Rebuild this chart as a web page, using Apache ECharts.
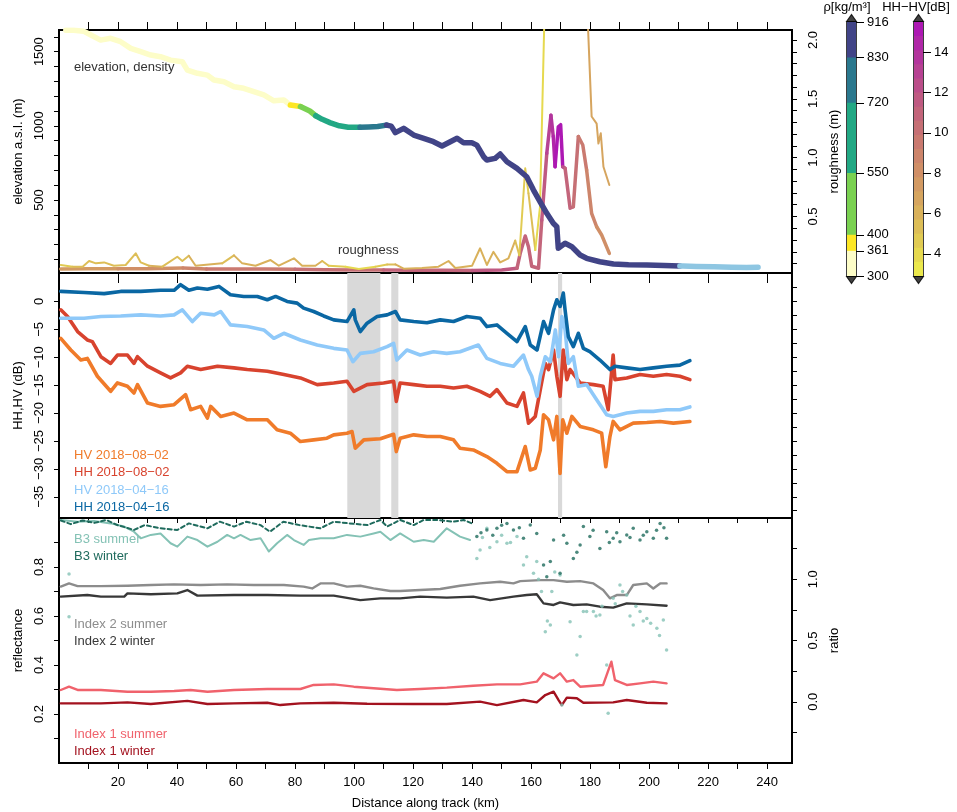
<!DOCTYPE html>
<html>
<head>
<meta charset="utf-8">
<script src="https://cdn.jsdelivr.net/npm/echarts@6.0.0/dist/echarts.min.js"></script>
<style>
html,body{margin:0;padding:0;background:#fff}
#main{width:957px;height:812px}
</style>
</head>
<body>
<div id="main"></div>
<script>
// ---------- data ----------
var xTicks10 = [10,20,30,40,50,60,70,80,90,100,110,120,130,140,150,160,170,180,190,200,210,220,230,240];
var xTicks20 = [20,40,60,80,100,120,140,160,180,200,220,240];
var xLabels = [20,40,60,80,100,120,140,160,180,200,220,240];

var elevTicks = [100,200,300,400,500,600,700,800,900,1000,1100,1200,1300,1400,1500,1600];
var elevLabels = [500,1000,1500];
var roughTicks = [0.1,0.2,0.3,0.4,0.5,0.6,0.7,0.8,0.9,1.0,1.1,1.2,1.3,1.4,1.5,1.6,1.7,1.8,1.9,2.0];
var roughLabels = [0.5,1.0,1.5,2.0];
var dbLabels = [-35,-30,-25,-20,-15,-10,-5,0];
var dbRightTicks = [-37.5,-35,-32.5,-30,-27.5,-25,-22.5,-20,-17.5,-15,-12.5,-10,-7.5,-5,-2.5,0,2.5];
var reflTicks = [0.1,0.2,0.3,0.4,0.5,0.6,0.7,0.8,0.9];
var reflLabels = [0.2,0.4,0.6,0.8];
var ratioTicks = [-0.25,0,0.25,0.5,0.75,1.0,1.25];
var ratioLabels = [0,0.5,1.0];

// elevation (m) with firn density (kg/m3) along track (km)
var elevKm = [2.3,5,8.3,10.8,14.1,17.5,20.9,24.3,27.7,31.1,34.4,37.8,41.8,43.5,46.9,50.3,52.5,55.9,59.3,62.6,66,69.4,72.8,76.2,78.4,
  79,81.8,82.4,85,87,89.2,92,95,98,102,105,108,111,112.6,114,116.8,120.2,123.6,126.9,129.8,132.6,134.9,137.1,139.9,141.6,143.9,145,
  147.8,149.5,151.8,155.2,158.5,160.8,163,165.3,167.5,168.7,169.2,171.5,173.8,176.6,178.8,183.3,187.9,193,199.2,205,210.4,211.5,216,222,228,233,236.9];
var elevM = [1644,1644,1638,1612,1578,1590,1567,1522,1500,1477,1466,1443,1432,1376,1354,1342,1309,1297,1264,1253,1230,1208,1169,1174,1140,
  1135,1130,1128,1100,1068,1044,1020,1000,990,990,992,995,1005,998,954,983,938,916,893,864,893,916,886,886,870,792,770,
  781,810,758,713,657,567,489,410,343,320,175,208,185,129,107,84,69,64,62,58,55,55,52,50,47,45,46];
var elevDensity = [330,330,330,330,330,330,330,330,330,330,330,330,330,330,330,330,330,330,330,330,330,330,330,330,330,
  375,380,430,470,500,580,620,650,680,710,760,790,810,870,880,880,880,885,885,885,890,890,890,890,890,895,895,
  895,895,895,900,900,900,900,900,905,905,905,905,905,905,905,905,905,905,905,905,905,930,930,930,930,930,930];

// roughness (m) coloured by HH-HV (dB): [km, roughness, HH-HV]
var roughThin = [[0.6,0.088,4.8],[4.6,0.074,4.8],[8,0.074,5.2],[10.2,0.122,5.2],[12.5,0.102,5.2],[15.3,0.11,5.2],[18.6,0.082,5.2],
  [22.6,0.088,5.5],[26,0.187,5.2],[27.7,0.11,5.5],[30.5,0.082,5.5],[35,0.074,5.8],[40.1,0.158,5.2],[41.8,0.122,5.5],[44,0.167,5.2],
  [46.3,0.082,5.8],[50.8,0.093,5.8],[55.3,0.102,5.8],[59.3,0.17,5.5],[62.1,0.102,5.8],[66.6,0.082,6.0],[71.7,0.13,5.8],[74.5,0.082,6.0],
  [79.6,0.145,5.8],[82.4,0.082,6.0],[86.9,0.082,5.8],[89.2,0.122,5.8],[91.4,0.082,5.5],[97.1,0.074,4.5],[101.6,0.054,3.8],[107.2,0.074,3.8],
  [111.2,0.093,4.8],[114,0.093,5.5],[116.8,0.057,5.8],[123,0.063,5.8],[128.6,0.074,5.8],[132,0.122,5.8],[134.3,0.063,5.8],[140,0.082,5.8],
  [142.7,0.23,5.8],[145,0.088,6.0],[147.2,0.2,5.8],[149.5,0.11,6.0],[152.3,0.145,6.0],[154.6,0.295,5.8],[156,0.17,5.5],[158,0.91,4.6],
  [159.1,0.697,5.0],[161.4,0.215,5.5],[163,0.583,4.2],[164.5,2.2,3.8],[166,2.9,3.8],[172,3.2,5.0],[178.8,2.4,6.2],[180.5,1.35,6.5],
  [182.2,1.29,6.5],[182.8,1.12,6.5],[183.6,1.207,6.8],[184.5,0.923,6.8],[186.5,0.768,7.0]];
var roughThick = [[0.6,0.054,6.8],[10,0.057,7.2],[20,0.057,7.5],[30,0.057,8.0],[42,0.063,8.5],[50,0.054,9.0],[60,0.054,9.3],[70,0.054,9.5],
  [80,0.052,9.8],[90,0.048,10.0],[100,0.045,10.2],[110,0.045,10.5],[120,0.044,10.8],[130,0.043,11.0],[140,0.042,11.3],[150,0.045,11.5],
  [155.2,0.06,11.5],[156.3,0.187,11.0],[158,0.334,10.8],[159.1,0.243,11.0],[160.2,0.077,11.2],[162.5,0.06,11.2],[163.6,0.47,11.0],
  [165.3,1.037,11.5],[166.7,1.36,12.8],[167.5,1.18,13.8],[168.1,0.923,14.2],[169.2,1.263,15.0],[170,1.28,15.2],[170.7,0.923,15.0],
  [171.5,0.91,12.5],[173.2,0.57,11.2],[174.3,0.583,11.0],[176,1.18,10.2],[177.5,1.108,9.6],[178.8,0.895,9.4],[180.5,0.527,9.0],
  [182.2,0.413,8.6],[183.9,0.343,8.5],[186.5,0.187,8.4]];

// backscatter (dB)
var hhApr = [[0.6,1.8],[8.5,1.6],[15.3,1.4],[20.9,1.8],[27.7,1.8],[34.4,2.0],[39,2.0],[41.2,3.0],[44,2.0],[46.9,2.4],[50.3,2.2],[54.2,2.7],
  [58.1,1.2],[62.6,0.9],[67.2,0.9],[70.6,0.3],[73.4,0.9],[77.3,0.0],[80.7,-0.3],[82.9,-1.2],[86.3,-1.8],[89.7,-2.6],[93.1,-3.3],[97.6,-3.6],
  [99.9,-1.5],[100.4,-3.3],[102.1,-5.4],[104.4,-3.9],[107.8,-2.7],[111.2,-2.4],[114,-1.8],[115.6,-3.3],[120.2,-3.6],[124.7,-3.8],[129.2,-3.3],
  [133.7,-3.6],[138.2,-2.7],[142.7,-3.0],[145,-4.5],[148.4,-4.2],[151.8,-5.7],[155.2,-7.2],[158,-4.5],[159.7,-7.8],[162,-8.7],[164.2,-3.6],
  [165.9,-5.7],[167.6,-1.5],[168.7,0.3],[169.8,-0.9],[170.9,1.5],[171.5,-1.5],[172.6,-6.3],[174.3,-8.1],[176,-5.7],[177.7,-8.4],[179.9,-9.0],
  [183.3,-10.5],[186.7,-12.2],[188.4,-11.6],[192.4,-11.9],[196.9,-12.2],[201.4,-11.9],[205.9,-11.6],[210.4,-11.4],[213.8,-10.6]];
var hvApr = [[0.6,-3.0],[8.5,-3.0],[14.2,-2.7],[20.9,-2.6],[27.7,-2.4],[34.4,-2.6],[39,-2.4],[41.8,-1.5],[45.2,-3.6],[48,-2.1],[52.6,-2.4],
  [54.8,-1.8],[58.1,-4.2],[63.8,-4.5],[69.4,-5.1],[72.8,-6.6],[76.2,-5.7],[81.8,-6.9],[87.5,-7.8],[93.1,-8.4],[97.6,-8.7],[99.6,-10.8],
  [102.1,-9.3],[106.6,-9.0],[111.2,-8.1],[113.4,-7.5],[114.5,-10.5],[117.9,-8.7],[122.4,-9.6],[126.9,-9.0],[131.4,-9.3],[135.9,-9.0],
  [142.1,-7.8],[145,-10.2],[149.5,-11.1],[154,-11.6],[157.4,-9.6],[159.1,-12.2],[160.2,-13.4],[162,-17.0],[163.1,-13.4],[164.8,-9.9],
  [166.5,-10.8],[168.2,-5.1],[169.3,-9.9],[170.4,-2.7],[171.5,-5.1],[172.6,-11.1],[174.3,-9.9],[176,-15.2],[178.8,-14.9],[182.2,-17.6],
  [185.6,-20.3],[187.8,-20.6],[192.4,-20.0],[196.9,-19.7],[201.4,-19.7],[205.9,-19.4],[210.4,-19.4],[213.8,-18.9]];
var hhAug = [[0.6,-1.5],[2.9,-2.7],[6.3,-5.4],[9.6,-6.9],[11.3,-7.2],[14.2,-9.9],[17.5,-11.1],[19.8,-9.6],[23.2,-9.6],[25.4,-11.1],
  [26.6,-9.9],[30,-11.6],[34.4,-12.8],[37.8,-13.7],[41.2,-12.8],[43.5,-11.6],[48,-12.2],[53.7,-11.6],[59.3,-11.9],[63.8,-12.2],[70.6,-12.5],
  [76.2,-13.1],[81.8,-13.7],[87.5,-14.9],[93.1,-14.6],[97.6,-14.3],[99.9,-16.1],[104.4,-14.9],[110,-14.6],[113.4,-14.3],[114.3,-17.9],
  [115.6,-14.6],[120.2,-14.9],[124.7,-15.2],[129.2,-15.2],[133.7,-15.5],[138.2,-15.2],[142.7,-16.1],[146.1,-17.0],[148.4,-15.8],
  [151.8,-18.2],[155.2,-18.8],[157.4,-16.4],[159.1,-21.8],[161.4,-20.6],[163.1,-15.8],[164.8,-11.1],[165.9,-12.2],[167.6,-8.7],
  [168.7,-13.4],[169.8,-17.0],[170.9,-8.7],[172.1,-14.0],[173.2,-12.2],[174.9,-13.4],[176.6,-14.6],[181.1,-14.9],[184.4,-15.2],
  [186.1,-19.4],[187.8,-9.6],[188.4,-14.0],[192.4,-13.7],[196.9,-13.1],[201.4,-13.4],[205.9,-13.1],[210.4,-13.4],[213.8,-14.0]];
var hvAug = [[0.6,-6.6],[4,-8.7],[7.4,-10.5],[9.6,-10.2],[13,-13.4],[17.5,-16.1],[19.8,-14.6],[23.2,-15.2],[25.4,-16.4],[26.6,-14.9],
  [30,-18.2],[34.4,-18.8],[39,-18.5],[42.9,-16.7],[44.6,-19.4],[48,-18.8],[50.3,-20.9],[51.4,-18.8],[54.8,-20.6],[59.3,-20.0],[63.8,-21.2],
  [70.6,-21.2],[73.9,-23.0],[78.4,-23.6],[81.8,-25.1],[86.3,-24.8],[90.8,-24.5],[93.1,-23.9],[97.6,-23.6],[99.3,-23.3],[100.4,-26.3],
  [103.3,-24.8],[108.9,-24.6],[113.4,-23.8],[114.3,-26.9],[115.6,-24.5],[120.2,-23.9],[124.7,-24.2],[129.2,-24.2],[133.7,-24.8],
  [135.9,-26.3],[140.4,-26.6],[145,-27.8],[148.4,-29.0],[151.8,-30.5],[155.2,-30.5],[158,-26.0],[159.7,-30.2],[161.4,-29.9],[163.1,-26.6],
  [164.2,-20.3],[165.9,-21.2],[167.6,-24.8],[168.7,-20.6],[169.8,-30.8],[170.7,-21.2],[172.1,-23.6],[173.8,-20.6],[176.6,-22.4],
  [181.1,-23.0],[183.9,-23.6],[185.3,-29.6],[186.7,-24.2],[187.8,-21.5],[190.1,-23.0],[194.6,-21.8],[199.2,-21.7],[203.7,-21.5],
  [208.2,-21.8],[213.8,-21.5]];
var grayBands = [[97.7,108.9],[112.6,115.0],[169.1,170.5]];

// optical: B3 reflectance, indices as ratio
var b3SumLine = [[0.6,0.992],[6.3,0.985],[11.9,0.988],[17.5,0.978],[22.1,0.965],[25.4,0.944],[27.7,0.917],[31.1,0.931],[34.4,0.937],
  [37.8,0.897],[40.1,0.883],[43.5,0.924],[46.9,0.91],[50.3,0.883],[53.7,0.903],[57,0.931],[59.3,0.917],[61.5,0.931],[64.9,0.91],
  [68.3,0.917],[71.1,0.863],[73.9,0.897],[77.3,0.931],[79.6,0.91],[82.9,0.89],[84.7,0.91],[88.6,0.917],[93.1,0.917],[97.6,0.931],
  [102.1,0.924],[106.6,0.937],[108.9,0.944],[112.3,0.91],[115.6,0.937],[120.2,0.903],[123.6,0.91],[127,0.903],[131.4,0.958],
  [135.9,0.924],[139.3,0.91]];
var b3SumPts = [[3.4,0.771],[3.4,0.597],[141.6,0.835],[142.7,0.869],[143.5,0.92],[145,0.958],[146,0.88],[148.4,0.903],[150,0.93],
  [151.8,0.897],[153,0.9],[155.2,0.924],[157.4,0.808],[158.5,0.842],[160.8,0.774],[161.9,0.822],[162.5,0.75],[163.5,0.7],[164.8,0.536],
  [165.5,0.58],[166.5,0.563],[167,0.7],[168,0.78],[169.8,0.767],[170.4,0.237],[173.2,0.577],[175.5,0.441],[176.6,0.516],[177.7,0.618],
  [178.8,0.618],[181.1,0.618],[182,0.6],[183.3,0.604],[184,0.64],[185.6,0.4],[186.1,0.203],[187.8,0.672],[188.5,0.65],[190.1,0.727],
  [191,0.7],[192.4,0.686],[193.5,0.6],[194.6,0.563],[195.5,0.64],[196.9,0.618],[198,0.58],[199.2,0.59],[200.5,0.57],[202.6,0.55],
  [203.5,0.52],[204.8,0.584],[205.9,0.461]];
var b3WinLine = [[0.6,0.99],[4,0.975],[8,0.99],[12,0.98],[16,0.992],[20,0.97],[23,0.96],[25.4,0.951],[29,0.971],[34.4,0.958],[40.1,0.951],
  [44,0.978],[50.3,0.958],[54.5,0.985],[59.3,0.965],[63.5,0.985],[68.3,0.971],[71.5,0.944],[76,0.985],[81.5,0.971],[88.6,0.958],
  [93.1,0.985],[98.5,0.978],[104.5,0.971],[108.9,0.992],[111.2,0.965],[115.6,0.992],[120.2,0.971],[123.6,0.992],[128.1,0.992],
  [133.7,0.985],[137.1,0.992],[139.9,0.978]];
var b3WinPts = [[141.6,0.924],[143,0.94],[145,0.951],[147,0.93],[148.4,0.958],[150,0.97],[151.8,0.978],[154,0.951],[156,0.96],
  [157.4,0.917],[159.7,0.971],[161.9,0.937],[164.2,0.808],[165.3,0.76],[166.5,0.822],[167.6,0.91],[169.8,0.774],[171,0.93],
  [172.1,0.897],[174.3,0.835],[175.5,0.86],[176.6,0.89],[177.7,0.965],[179.9,0.924],[181,0.95],[183.3,0.876],[185.6,0.944],
  [186.5,0.9],[187.8,0.917],[189,0.94],[190.1,0.903],[192.4,0.931],[193.5,0.92],[194.6,0.958],[196.9,0.91],[198,0.93],[199.2,0.944],
  [201.4,0.917],[202.5,0.95],[203.7,0.978],[205,0.96],[205.9,0.917]];
var idx2Sum = [[0.6,0.94],[3.4,0.966],[6.3,0.944],[14.2,0.944],[23.2,0.947],[31.1,0.953],[39,0.958],[48,0.953],[57,0.958],[66,0.953],
  [76.2,0.953],[82.9,0.94],[85.8,0.925],[88.6,0.966],[93.1,0.966],[97.6,0.94],[102.1,0.947],[106.6,0.925],[112.3,0.904],[115.6,0.904],
  [122.4,0.912],[129.2,0.92],[135.9,0.947],[142.7,0.966],[149.5,0.98],[154,0.966],[156.3,0.985],[163.1,0.993],[167.6,0.993],
  [172.1,0.98],[176.6,0.985],[181.1,0.966],[184.4,0.912],[186.7,0.844],[189,0.871],[192.4,0.871],[194.6,0.953],[199.2,0.966],
  [201.4,0.925],[203.7,0.966],[205.9,0.966]];
var idx2Win = [[0.6,0.858],[9.6,0.871],[14.2,0.858],[22.1,0.858],[23.2,0.885],[31.1,0.877],[40.1,0.885],[43.5,0.912],[46.9,0.866],
  [59.3,0.871],[70.6,0.871],[81.8,0.866],[93.1,0.866],[102.1,0.83],[108.9,0.844],[115.6,0.844],[122.4,0.858],[131.4,0.85],[140.4,0.858],
  [146.1,0.83],[154,0.858],[158.5,0.871],[161.9,0.877],[164.2,0.803],[167.6,0.79],[169.8,0.811],[174.3,0.79],[178.8,0.795],[183.3,0.776],
  [187.8,0.768],[192.4,0.803],[199.2,0.795],[205.9,0.784]];
var idx1Sum = [[0.6,0.096],[3.4,0.123],[6.3,0.096],[14.2,0.096],[23.2,0.082],[31.1,0.082],[39,0.088],[44.6,0.096],[50.3,0.082],
  [59.3,0.096],[70.6,0.104],[81.8,0.104],[86.3,0.137],[93.1,0.142],[99.9,0.123],[106.6,0.11],[114.5,0.096],[122.4,0.104],[131.4,0.115],
  [140.4,0.131],[148.4,0.142],[156.3,0.142],[161.9,0.164],[164.2,0.232],[167.6,0.191],[169.8,0.232],[172.1,0.164],[174.3,0.177],
  [176.6,0.123],[181.1,0.131],[184.4,0.137],[187.2,0.327],[188.4,0.177],[192.4,0.137],[196.9,0.15],[201.4,0.164],[205.9,0.15]];
var idx1Win = [[0.6,-0.013],[14.2,-0.013],[23.2,-0.005],[31.1,-0.018],[43.5,0.007],[50.3,-0.018],[59.3,-0.013],[70.6,-0.008],[75,-0.027],
  [81.8,-0.013],[93.1,-0.008],[104.4,-0.016],[120.2,-0.018],[131.4,-0.018],[142.7,0.001],[148.4,-0.027],[157.4,0.014],[161.9,-0.005],
  [164.8,0.055],[167.6,0.082],[169.3,0.014],[170.4,-0.027],[172.1,0.034],[175.5,0.028],[177.7,-0.008],[187.8,-0.005],[192.4,0.014],
  [199.2,-0.008],[205.9,-0.013]];

// colour scales
var densityEdges = [300,361,400,550,720,830,916];
var densityColors = ['#fdfdc8','#fde725','#7ad151','#22a884','#2a788e','#414487'];
var iceColor = '#8ec6e2';
var dbEdges = [2.9,3.6,4.3,5.0,5.7,6.4,7.1,7.8,8.5,9.2,9.9,10.6,11.3,12.0,12.7,13.4,14.1,14.8,15.5];
var dbColors = ['#ebe84c','#e6d94f','#e1cb53','#ddbe57','#d9b15b','#d6a55f','#d39a63','#d08f67','#cd856b','#ca7a70',
  '#c67075','#c3657b','#bf5a82','#bb4e8a','#b74293','#b3359d','#b027a8','#ad18b3'];
var dbLabelVals = [4,6,8,10,12,14];

// ---------- helpers ----------
var FONT = '"Liberation Sans", Arial, Helvetica, sans-serif';
var X_MIN = 0, X_MAX = 248.4;

function classOf(v, edges){
    for(var i=1;i<edges.length;i++){ if(v<=edges[i]) return i-1; }
    return edges.length-1;
}
function densityColor(d){
    var i=classOf(d,densityEdges);
    return i>=densityColors.length ? iceColor : densityColors[i];
}
function dbColor(v){
    var i=classOf(v,dbEdges);
    if(i<0) i=0;
    if(i>dbColors.length-1) i=dbColors.length-1;
    return dbColors[i];
}
function minusFmt(v){ return v<0 ? '\u2212'+Math.abs(v) : String(v); }
function oneDec(v){ return Number(v).toFixed(1); }
function plainNum(v){ return String(v); }

// split a line into runs of the same colour, each run joined to the previous point
function colouredRuns(pts, colourOf, xi, yi, width, z){
    var out=[], cur=null, last=null;
    pts.forEach(function(p){
        var col=colourOf(p[2]);
        var q=[p[0],p[1]];
        if(!cur || cur.col!==col){
            cur={col:col,data:last?[last]:[]};
            out.push(cur);
        }
        cur.data.push(q); last=q;
    });
    return out.map(function(r){
        return {type:'line',xAxisIndex:xi,yAxisIndex:yi,data:r.data,showSymbol:false,silent:true,z:z,
            lineStyle:{color:r.col,width:width,cap:'round',join:'round'}};
    });
}
function plainLine(data, xi, yi, color, width, z, dashed){
    return {type:'line',xAxisIndex:xi,yAxisIndex:yi,data:data,showSymbol:false,silent:true,z:z||2,
        lineStyle:{color:color,width:width,type:dashed?[4,3]:'solid',cap:'round',join:'round'}};
}
function dots(data, xi, yi, color, size){
    return {type:'scatter',xAxisIndex:xi,yAxisIndex:yi,data:data,symbolSize:size,silent:true,z:3,
        itemStyle:{color:color}};
}
function xAx(grid, pos, ticks, len, inside, labels, name){
    return {type:'value',gridIndex:grid,position:pos,min:X_MIN,max:X_MAX,
        axisLine:{show:false,onZero:false},splitLine:{show:false},
        axisTick:{show:true,inside:inside,length:len,customValues:ticks,lineStyle:{color:'#000',width:1}},
        axisLabel:{show:!!labels,customValues:labels||[],margin:13,fontFamily:FONT,fontSize:13,color:'#000'},
        name:name||'',nameLocation:'middle',nameGap:34,nameTextStyle:{fontFamily:FONT,fontSize:13,color:'#000'}};
}
function yAx(grid, pos, min, max, ticks, labels, fmt, name, nameGap, margin){
    return {type:'value',gridIndex:grid,position:pos,min:min,max:max,
        axisLine:{show:false,onZero:false},splitLine:{show:false},
        axisTick:{show:true,length:5,customValues:ticks,lineStyle:{color:'#000',width:1}},
        axisLabel:{show:!!labels,customValues:labels||[],rotate:90,margin:margin||12,formatter:fmt,
            fontFamily:FONT,fontSize:13,color:'#000'},
        name:name||'',nameLocation:'middle',nameGap:nameGap||30,
        nameTextStyle:{fontFamily:FONT,fontSize:13,color:'#000'}};
}
function cbarY(grid, min, max, ticks){
    return {type:'value',gridIndex:grid,position:'right',min:min,max:max,
        axisLine:{show:false,onZero:false},splitLine:{show:false},
        axisTick:{show:true,length:8,customValues:ticks,lineStyle:{color:'#000',width:1}},
        axisLabel:{show:true,customValues:ticks,margin:11,fontFamily:FONT,fontSize:13,color:'#000'}};
}
function txt(x, y, s, color, align){
    return {type:'text',x:x,y:y,silent:true,
        style:{text:s,fill:color,font:'13px '+FONT,verticalAlign:'middle',align:align||'left'}};
}

// ---------- series ----------
var series = [];

// panel 1: roughness lines coloured by HH-HV, elevation coloured by density
series = series.concat(colouredRuns(roughThick, dbColor, 0, 1, 3.5, 2));
series = series.concat(colouredRuns(roughThin, dbColor, 0, 1, 2, 3));
var elevPts = elevKm.map(function(k,i){ return [k, elevM[i], elevDensity[i]]; });
series = series.concat(colouredRuns(elevPts, densityColor, 0, 0, 5.5, 4));

// panel 2: grey bands and backscatter
series.push({type:'line',xAxisIndex:1,yAxisIndex:2,data:[],silent:true,z:1,
    markArea:{silent:true,itemStyle:{color:'#d9d9d9'},
        data:grayBands.map(function(b){ return [{xAxis:b[0]},{xAxis:b[1]}]; })}});
series.push(plainLine(hvAug, 1, 2, '#f07b2a', 3.6, 2));
series.push(plainLine(hhAug, 1, 2, '#d8432e', 3.6, 3));
series.push(plainLine(hvApr, 1, 2, '#8fc9f9', 3.6, 4));
series.push(plainLine(hhApr, 1, 2, '#0a67a3', 3.6, 5));

// panel 3
series.push(plainLine(b3SumLine, 2, 4, '#84c2b5', 2, 2));
series.push(dots(b3SumPts, 2, 4, '#84c2b5', 3.5));
series.push(plainLine(b3WinLine, 2, 4, '#1f6b5d', 2, 3, true));
series.push(dots(b3WinPts, 2, 4, '#1f6b5d', 3.5));
series.push(plainLine(idx2Sum, 2, 5, '#8c8c8c', 2.4, 2));
series.push(plainLine(idx2Win, 2, 5, '#383838', 2.4, 3));
series.push(plainLine(idx1Sum, 2, 5, '#f0626c', 2.4, 2));
series.push(plainLine(idx1Win, 2, 5, '#a3121f', 2.4, 3));

// colour bars: overlaid bars, each running up to its class upper bound
for(var i=densityColors.length-1;i>=0;i--){
    series.push({type:'bar',xAxisIndex:4,yAxisIndex:6,data:[densityEdges[i+1]],barWidth:'100%',barGap:'-100%',
        silent:true,itemStyle:{color:densityColors[i]}});
}
for(var j=dbColors.length-1;j>=0;j--){
    series.push({type:'bar',xAxisIndex:5,yAxisIndex:7,data:[dbEdges[j+1]],barWidth:'100%',barGap:'-100%',
        silent:true,itemStyle:{color:dbColors[j]}});
}
function arrowSeries(xi, yi, val, up){
    return {type:'scatter',xAxisIndex:xi,yAxisIndex:yi,data:[[0,val]],symbol:'triangle',symbolSize:[10,7],
        symbolRotate:up?0:180,symbolOffset:[0,up?-4:4],clip:false,silent:true,z:10,
        itemStyle:{color:'#111',borderColor:'#000',borderWidth:1}};
}
series.push(arrowSeries(4, 6, densityEdges[densityEdges.length-1], true));
series.push(arrowSeries(4, 6, densityEdges[0], false));
series.push(arrowSeries(5, 7, dbEdges[dbEdges.length-1], true));
series.push(arrowSeries(5, 7, dbEdges[0], false));

// ---------- chart ----------
var frame = {show:true,borderColor:'#000',borderWidth:2,backgroundColor:'transparent',containLabel:false};
var option = {
    animation:false,
    backgroundColor:'#fff',
    textStyle:{fontFamily:FONT},
    grid:[
        Object.assign({left:59,top:30,width:733,height:243},frame),
        Object.assign({left:59,top:273,width:733,height:245},frame),
        Object.assign({left:59,top:518,width:733,height:245},frame),
        {show:true,left:847,top:22,width:9,height:254,borderColor:'#000',borderWidth:1.5},
        {show:true,left:914,top:22,width:9,height:254,borderColor:'#000',borderWidth:1.5}
    ],
    xAxis:[
        xAx(0,'top',xTicks10,8,false),
        xAx(1,'top',xTicks20,10,true),
        xAx(2,'top',xTicks10,5,true),
        xAx(2,'bottom',xTicks10,6,false,xLabels,'Distance along track (km)'),
        {type:'category',gridIndex:3,data:['d'],show:false},
        {type:'category',gridIndex:4,data:['h'],show:false}
    ],
    yAxis:[
        yAx(0,'left',8,1646,elevTicks,elevLabels,plainNum,'elevation a.s.l. (m)',31,13),
        yAx(0,'right',0.02,2.085,roughTicks,roughLabels,oneDec,'roughness (m)',35,15),
        yAx(1,'left',-38.8,5.1,dbLabels,dbLabels,minusFmt,'HH,HV (dB)',31,13),
        yAx(1,'right',-38.8,5.1,dbRightTicks,null,null,'',30,15),
        yAx(2,'left',0,1,reflTicks,reflLabels,oneDec,'reflectance',31,13),
        yAx(2,'right',-0.5,1.5,ratioTicks,ratioLabels,oneDec,'ratio',35,15),
        cbarY(3,densityEdges[0],densityEdges[densityEdges.length-1],densityEdges),
        cbarY(4,dbEdges[0],dbEdges[dbEdges.length-1],dbLabelVals)
    ],
    graphic:[
        txt(74,67,'elevation, density','#333'),
        txt(338,250,'roughness','#333'),
        txt(74,455,'HV 2018\u221208\u221202','#f07b2a'),
        txt(74,472.5,'HH 2018\u221208\u221202','#d8432e'),
        txt(74,490,'HV 2018\u221204\u221216','#8fc9f9'),
        txt(74,507,'HH 2018\u221204\u221216','#0a67a3'),
        txt(74,539,'B3 summer','#84c2b5'),
        txt(74,556,'B3 winter','#1f6b5d'),
        txt(74,624,'Index 2 summer','#8c8c8c'),
        txt(74,641.5,'Index 2 winter','#383838'),
        txt(74,734,'Index 1 summer','#f0626c'),
        txt(74,751,'Index 1 winter','#a3121f'),
        txt(847,7,'\u03c1[kg/m\u00b3]','#000','center'),
        txt(916,7,'HH\u2212HV[dB]','#000','center')
    ],
    series:series
};

var myChart = echarts.init(document.getElementById('main'), null, {renderer:'canvas'});
myChart.setOption(option);
</script>
</body>
</html>
